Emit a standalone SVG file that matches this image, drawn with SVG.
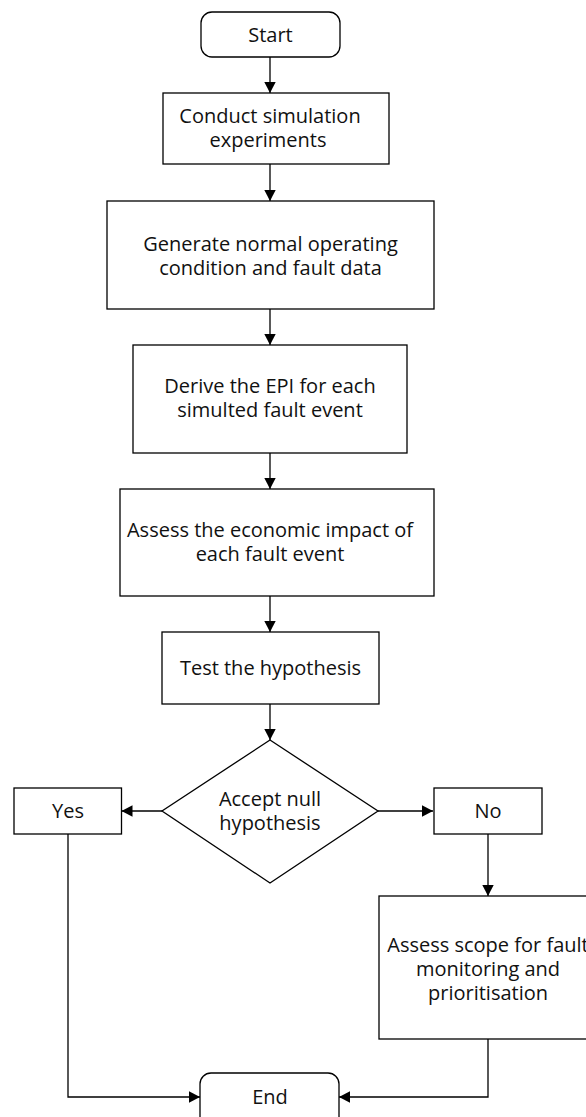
<svg xmlns="http://www.w3.org/2000/svg" width="586" height="1117" viewBox="0 0 586 1117">
  <style>
    .box { fill: #ffffff; stroke: #000000; stroke-width: 1.3; }
    .lbl { font-family: "Open Sans", "Liberation Sans", sans-serif; font-size: 20px; fill: #111111; text-anchor: middle; }
    .wire { fill: none; stroke: #000000; stroke-width: 1.3; marker-end: url(#arrow); }
  </style>
  <defs>
    <marker id="arrow" markerUnits="userSpaceOnUse" markerWidth="13" markerHeight="13" viewBox="0 0 13 13" refX="12" refY="6.5" orient="auto">
      <path d="M1,0.8 L12,6.5 L1,12.2 Z" fill="#000000"/>
    </marker>
  </defs>
  <rect width="586" height="1117" fill="#ffffff"/>

  <g id="connectors">
    <line class="wire" x1="270" y1="57" x2="270" y2="93"/>
    <line class="wire" x1="270" y1="164" x2="270" y2="201"/>
    <line class="wire" x1="270" y1="309" x2="270" y2="345"/>
    <line class="wire" x1="270" y1="453" x2="270" y2="489"/>
    <line class="wire" x1="270" y1="596" x2="270" y2="632"/>
    <line class="wire" x1="270" y1="704" x2="270" y2="740"/>
    <line class="wire" x1="162" y1="811" x2="121.5" y2="811"/>
    <line class="wire" x1="378" y1="811" x2="433" y2="811"/>
    <line class="wire" x1="488" y1="834" x2="488" y2="896"/>
    <polyline class="wire" points="68,834 68,1097 200,1097"/>
    <polyline class="wire" points="488,1039 488,1097 339,1097"/>
  </g>

  <g id="start">
    <rect class="box" x="201" y="12" width="139" height="45" rx="11"/>
    <text class="lbl" x="270.5" y="42">Start</text>
  </g>

  <g id="conduct">
    <rect class="box" x="163" y="93" width="226" height="71"/>
    <text class="lbl" x="270" y="123">Conduct simulation</text>
    <text class="lbl" x="268" y="147">experiments</text>
  </g>

  <g id="generate">
    <rect class="box" x="107" y="201" width="327" height="108"/>
    <text class="lbl" x="270.5" y="251">Generate normal operating</text>
    <text class="lbl" x="270.5" y="275">condition and fault data</text>
  </g>

  <g id="derive">
    <rect class="box" x="133" y="345" width="274" height="108"/>
    <text class="lbl" x="270" y="393">Derive the EPI for each</text>
    <text class="lbl" x="270" y="417">simulted fault event</text>
  </g>

  <g id="assess-impact">
    <rect class="box" x="120" y="489" width="314" height="107"/>
    <text class="lbl" x="270" y="537">Assess the economic impact of</text>
    <text class="lbl" x="270" y="561">each fault event</text>
  </g>

  <g id="test">
    <rect class="box" x="162" y="632" width="217" height="72"/>
    <text class="lbl" x="270.5" y="675">Test the hypothesis</text>
  </g>

  <g id="decision">
    <polygon class="box" points="270,740 378,811 270,883 162,811"/>
    <text class="lbl" x="270" y="806">Accept null</text>
    <text class="lbl" x="270" y="830">hypothesis</text>
  </g>

  <g id="yes">
    <rect class="box" x="14" y="788" width="107.5" height="46"/>
    <text class="lbl" x="68" y="818">Yes</text>
  </g>

  <g id="no">
    <rect class="box" x="434" y="788" width="108" height="46"/>
    <text class="lbl" x="488" y="818">No</text>
  </g>

  <g id="assess-scope">
    <rect class="box" x="379" y="896" width="218" height="143"/>
    <text class="lbl" x="488" y="952">Assess scope for fault</text>
    <text class="lbl" x="488" y="976">monitoring and</text>
    <text class="lbl" x="488" y="1000">prioritisation</text>
  </g>

  <g id="end">
    <rect class="box" x="200" y="1073" width="139" height="55" rx="11"/>
    <text class="lbl" x="270" y="1104">End</text>
  </g>
</svg>
